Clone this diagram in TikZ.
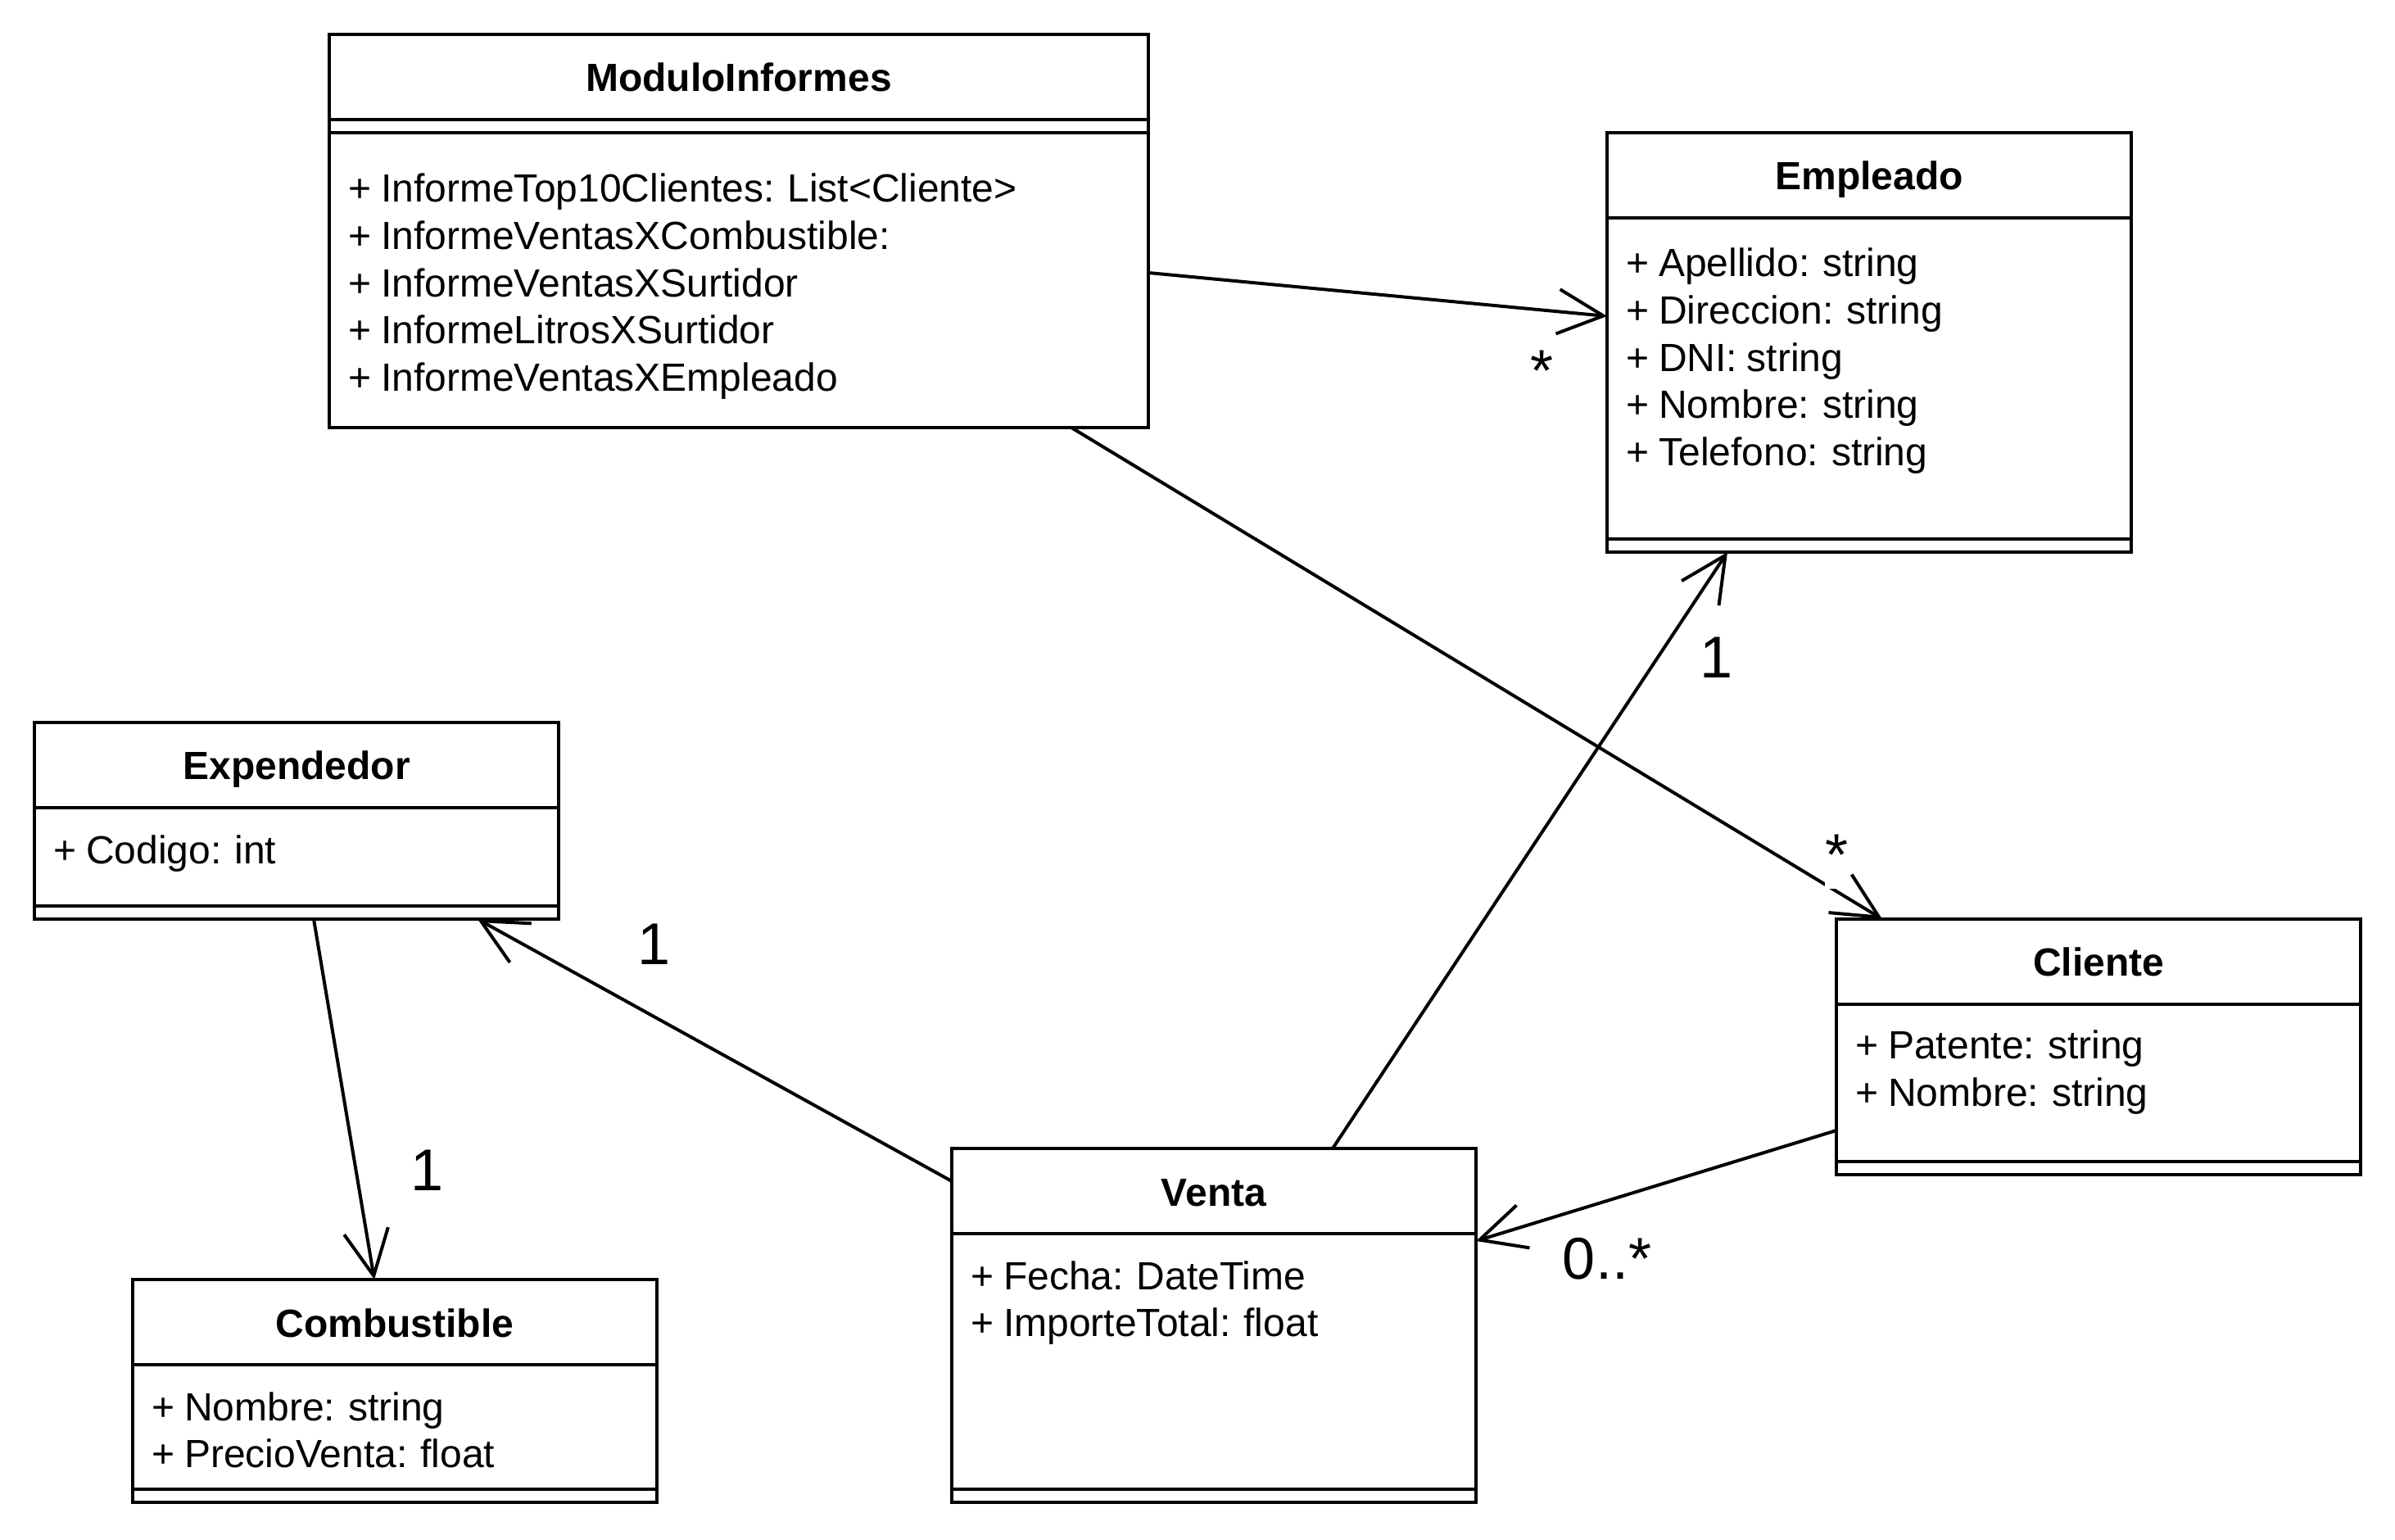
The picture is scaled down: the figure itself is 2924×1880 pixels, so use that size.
\documentclass[tikz,border=0pt]{standalone}
\usepackage{fontspec}
\setmainfont{Liberation Sans}[WordSpace=0.86]
\usetikzlibrary{arrows.meta,fit,calc}
\tikzset{
  box/.style={draw, line width=1pt, inner sep=0pt, outer sep=0pt},
  sepline/.style={line width=1pt},
  ctitle/.style={font=\fontsize{12}{14.4}\selectfont\bfseries, anchor=base, inner sep=0pt},
  attr/.style={font=\fontsize{12}{14.4}\selectfont, anchor=base west, inner sep=0pt},
  mult/.style={font=\fontsize{18}{21.6}\selectfont, anchor=north, inner sep=0pt},
  assoc/.style={line width=1pt, -{Straight Barb[length=13.9pt, width=13.6pt]}},
}
\begin{document}
\begin{tikzpicture}[x=0.25pt, y=-0.25pt]
\fill[white] (0,0) rectangle (2924,1880);
\useasboundingbox (0,0) rectangle (2924,1880);

% ModuloInformes
\node[box, fit={(402,42) (1402,522)}] (mi) {};
\draw[sepline] (402,146) -- (1402,146);
\draw[sepline] (402,162) -- (1402,162);
\node[ctitle] (mit) at (902,112) {ModuloInformes};
\node[attr] (mi1) at (425,247) {+ InformeTop10Clientes: List<Cliente>};
\node[attr] (mi2) at (425,304.6) {+ InformeVentasXCombustible:};
\node[attr] (mi3) at (425,362.2) {+ InformeVentasXSurtidor};
\node[attr] (mi4) at (425,419.8) {+ InformeLitrosXSurtidor};
\node[attr] (mi5) at (425,477.4) {+ InformeVentasXEmpleado};

% Empleado
\node[box, fit={(1962,162) (2602,674)}] (emp) {};
\draw[sepline] (1962,266) -- (2602,266);
\draw[sepline] (1962,658) -- (2602,658);
\node[ctitle] (empt) at (2282,232) {Empleado};
\node[attr] (emp1) at (1985,338) {+ Apellido: string};
\node[attr] (emp2) at (1985,395.6) {+ Direccion: string};
\node[attr] (emp3) at (1985,453.2) {+ DNI: string};
\node[attr] (emp4) at (1985,510.8) {+ Nombre: string};
\node[attr] (emp5) at (1985,568.4) {+ Telefono: string};

% Expendedor
\node[box, fit={(42,882) (682,1122)}] (exp) {};
\draw[sepline] (42,986) -- (682,986);
\draw[sepline] (42,1106) -- (682,1106);
\node[ctitle] (expt) at (362,952) {Expendedor};
\node[attr] (exp1) at (65,1055) {+ Codigo: int};

% Cliente
\node[box, fit={(2242,1122) (2882,1434)}] (cli) {};
\draw[sepline] (2242,1226) -- (2882,1226);
\draw[sepline] (2242,1418) -- (2882,1418);
\node[ctitle] (clit) at (2562,1192) {Cliente};
\node[attr] (cli1) at (2265,1293) {+ Patente: string};
\node[attr] (cli2) at (2265,1350.6) {+ Nombre: string};

% Venta
\node[box, fit={(1162,1402) (1802,1834)}] (ven) {};
\draw[sepline] (1162,1506) -- (1802,1506);
\draw[sepline] (1162,1818) -- (1802,1818);
\node[ctitle] (vent) at (1482,1472) {Venta};
\node[attr] (ven1) at (1185,1574) {+ Fecha: DateTime};
\node[attr] (ven2) at (1185,1631.6) {+ ImporteTotal: float};

% Combustible
\node[box, fit={(162,1562) (802,1834)}] (com) {};
\draw[sepline] (162,1666) -- (802,1666);
\draw[sepline] (162,1818) -- (802,1818);
\node[ctitle] (comt) at (482,1632) {Combustible};
\node[attr] (com1) at (185,1734) {+ Nombre: string};
\node[attr] (com2) at (185,1791.6) {+ PrecioVenta: float};

% connectors
\draw[assoc] ($(mi.north east)+(0,291)$) -- ($(emp.north west)+(0,224)$);
\draw[assoc] ($(mi.south west)+(906,0)$) -- ($(cli.north west)+(56,0)$);
\draw[assoc] ($(ven.north west)+(465,0)$) -- ($(emp.south west)+(147,0)$);
\draw[assoc] ($(ven.north west)+(0,40)$) -- ($(exp.south west)+(541,0)$);
\draw[assoc] ($(exp.south west)+(341,0)$) -- ($(com.north west)+(295,0)$);
\draw[assoc] ($(cli.north west)+(0,258)$) -- ($(ven.north east)+(0,113)$);

% multiplicities
\node[mult] (m1) at (1882,427) {*};
\node[mult, fill=white, text depth=4.1pt] (m2) at (2242,1018) {*};
\node[mult] (m3) at (2095,777) {1};
\node[mult] (m4) at (799,1127) {1};
\node[mult] (m5) at (522,1403) {1};
\node[mult] (m6) at (1962,1510) {0..*};
\end{tikzpicture}
\end{document}
